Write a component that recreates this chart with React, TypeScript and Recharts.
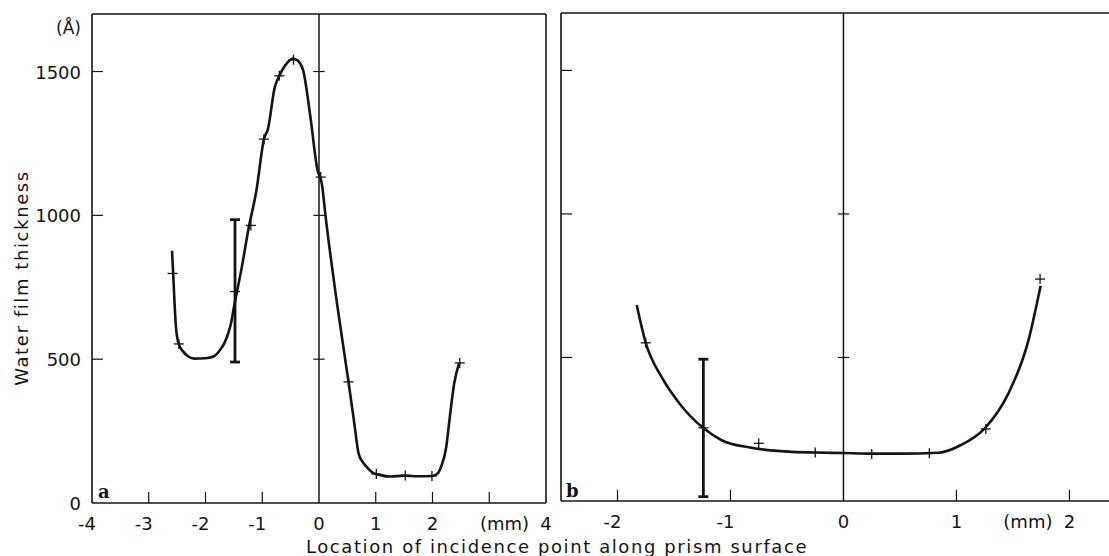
import React from 'react';
import {
  ComposedChart, Line, Scatter, ErrorBar, XAxis, YAxis, ReferenceLine,
} from 'recharts';

/* ── Panel a: measured points, fitted curve, error bar ── */
const pointsA = [
  { x: -2.58, y: 798 }, { x: -2.47, y: 553 }, { x: -1.2, y: 965 },
  { x: -0.97, y: 1265 }, { x: -0.7, y: 1485 }, { x: -0.45, y: 1541 },
  { x: 0.03, y: 1133 }, { x: 0.52, y: 421 }, { x: 1.01, y: 101 },
  { x: 1.52, y: 96 }, { x: 1.99, y: 94 }, { x: 2.48, y: 487 },
];
const errPointA = [{ x: -1.48, y: 735, err: [245, 250] }];
const curveA = [
  { x: -2.59, y: 877 }, { x: -2.57, y: 800 }, { x: -2.55, y: 714 }, { x: -2.52, y: 610 },
  { x: -2.47, y: 552 }, { x: -2.4, y: 528 }, { x: -2.32, y: 512 }, { x: -2.2, y: 502 },
  { x: -2.0, y: 503 }, { x: -1.85, y: 510 }, { x: -1.75, y: 530 }, { x: -1.67, y: 555 },
  { x: -1.6, y: 590 }, { x: -1.55, y: 625 }, { x: -1.5, y: 680 }, { x: -1.45, y: 730 },
  { x: -1.36, y: 820 }, { x: -1.25, y: 945 }, { x: -1.1, y: 1090 }, { x: -0.97, y: 1265 },
  { x: -0.9, y: 1300 }, { x: -0.78, y: 1445 }, { x: -0.7, y: 1485 }, { x: -0.6, y: 1520 },
  { x: -0.46, y: 1545 }, { x: -0.37, y: 1537 }, { x: -0.28, y: 1505 }, { x: -0.15, y: 1340 },
  { x: -0.03, y: 1160 }, { x: 0.05, y: 1110 }, { x: 0.12, y: 990 }, { x: 0.32, y: 690 },
  { x: 0.52, y: 421 }, { x: 0.62, y: 280 }, { x: 0.7, y: 170 }, { x: 0.78, y: 140 },
  { x: 0.85, y: 123 }, { x: 0.95, y: 105 }, { x: 1.1, y: 96 }, { x: 1.25, y: 92 },
  { x: 1.5, y: 95 }, { x: 1.75, y: 93 }, { x: 2.0, y: 94 }, { x: 2.1, y: 105 },
  { x: 2.15, y: 125 }, { x: 2.24, y: 192 }, { x: 2.3, y: 290 }, { x: 2.38, y: 413 },
  { x: 2.47, y: 487 },
];

/* ── Panel b ── */
const pointsB = [
  { x: -1.75, y: 551 }, { x: -0.75, y: 201 }, { x: -0.25, y: 169 }, { x: 0.25, y: 164 },
  { x: 0.76, y: 166 }, { x: 1.26, y: 251 }, { x: 1.74, y: 773 },
];
const errPointB = [{ x: -1.24, y: 255, err: [240, 239] }];
const curveB = [
  { x: -1.83, y: 683 }, { x: -1.75, y: 551 }, { x: -1.61, y: 432 }, { x: -1.45, y: 339 },
  { x: -1.24, y: 254 }, { x: -1.07, y: 210 }, { x: -0.84, y: 187 }, { x: -0.49, y: 172 },
  { x: -0.25, y: 169 }, { x: 0, y: 167 }, { x: 0.25, y: 165 }, { x: 0.5, y: 165 },
  { x: 0.84, y: 168 }, { x: 1.04, y: 195 }, { x: 1.25, y: 253 }, { x: 1.46, y: 375 },
  { x: 1.63, y: 549 }, { x: 1.745, y: 750 },
];

/* ── Axes ── */
const xTicksA = [-4, -3, -2, -1, 0, 1, 2, 3, 4];
const xTicksB = [-2, -1, 0, 1, 2];
const yTicks = [0, 500, 1000, 1500];
const midTicksA = [500, 1000, 1500];
const midTicksB = [500, 1000];
const Y_MAX = 1700;

const INK = '#141414';
const FONT = '"DejaVu Sans", sans-serif';

const Cross = (props: any) => {
  const { cx, cy } = props;
  return (
    <g stroke={INK} strokeWidth={1.3}>
      <line x1={cx - 5} x2={cx + 5} y1={cy} y2={cy} />
      <line x1={cx} x2={cx} y1={cy - 5} y2={cy + 5} />
    </g>
  );
};

function makeXTick(lastVal: number, noLabel: number[], noLine: number[]) {
  return (props: any) => {
    const { x, y, payload } = props;
    const v = payload.value;
    return (
      <g>
        {!noLine.includes(v) && (
          <line x1={x} x2={x} y1={y} y2={y - 11} stroke={INK} strokeWidth={1.2} />
        )}
        {!noLabel.includes(v) && (
          <text x={x} y={y + 27} dx={v < 0 ? -5 : 0} textAnchor="middle"
            fontFamily={FONT} fontSize={18} fill={INK}>{String(v)}</text>
        )}
        {v === lastVal && (
          <text x={x - 17} y={y + 27} textAnchor="end" fontFamily={FONT}
            fontSize={18} fill={INK}>(mm)</text>
        )}
      </g>
    );
  };
}

const YTickA = (props: any) => {
  const { x, y, payload } = props;
  return (
    <g>
      {payload.value !== 0 && (
        <line x1={x + 11} x2={x + 22} y1={y} y2={y} stroke={INK} strokeWidth={1.2} />
      )}
      <text x={x} y={y + 7} textAnchor="end" fontFamily={FONT} fontSize={18} fill={INK}>
        {payload.value}
      </text>
    </g>
  );
};

const YTickB = (props: any) => {
  const { x, y, payload } = props;
  if (payload.value === 0) return <g />;
  return <line x1={x} x2={x + 11} y1={y} y2={y} stroke={INK} strokeWidth={1.2} />;
};

const axisLine = { stroke: INK, strokeWidth: 1.6 };

export default function App() {
  return (
    <div style={{ position: 'absolute', left: 0, top: 0, width: 1109, height: 556, background: '#fff' }}>
      {/* panel a */}
      <div style={{ position: 'absolute', left: 0, top: 0 }}>
        <ComposedChart width={560} height={556} margin={{ top: 14, right: 14, bottom: 23, left: 32 }}>
          <XAxis type="number" dataKey="x" domain={[-4, 4]} ticks={xTicksA} interval={0}
            height={30} tickSize={0} tickMargin={0} axisLine={axisLine} tickLine={false}
            tick={makeXTick(4, [3], [-4, 0, 4])} allowDataOverflow />
          <YAxis type="number" dataKey="y" domain={[0, Y_MAX]} ticks={yTicks} interval={0}
            width={60} tickSize={0} tickMargin={11} axisLine={axisLine} tickLine={false}
            tick={YTickA} allowDataOverflow />
          <ReferenceLine y={Y_MAX} stroke={INK} strokeWidth={1.6} />
          <ReferenceLine x={4} stroke={INK} strokeWidth={1.6} />
          <ReferenceLine x={0} stroke={INK} strokeWidth={1.5} />
          {midTicksA.map((v) => (
            <ReferenceLine key={v} segment={[{ x: -0.1, y: v }, { x: 0.1, y: v }]} stroke={INK} strokeWidth={1.2} />
          ))}
          <Line data={curveA} dataKey="y" type="monotone" stroke={INK} strokeWidth={2.6}
            dot={false} activeDot={false} isAnimationActive={false} />
          <Scatter data={pointsA} dataKey="y" shape={Cross} isAnimationActive={false} />
          <Scatter data={errPointA} dataKey="y" shape={Cross} isAnimationActive={false}>
            <ErrorBar dataKey="err" direction="y" width={5} stroke={INK} strokeWidth={2.8} />
          </Scatter>
        </ComposedChart>
      </div>

      {/* panel b */}
      <div style={{ position: 'absolute', left: 501, top: 0 }}>
        <ComposedChart width={608} height={556} margin={{ top: 13, right: 0, bottom: 25, left: 0 }}>
          <XAxis type="number" dataKey="x" domain={[-2.5, 2.35]} ticks={xTicksB} interval={0}
            height={30} tickSize={0} tickMargin={0} axisLine={axisLine} tickLine={false}
            tick={makeXTick(2, [], [0])} allowDataOverflow />
          <YAxis type="number" dataKey="y" domain={[0, Y_MAX]} ticks={yTicks} interval={0}
            width={60} tickSize={0} tickMargin={0} axisLine={axisLine} tickLine={false}
            tick={YTickB} allowDataOverflow />
          <ReferenceLine y={Y_MAX} stroke={INK} strokeWidth={1.6} />
          <ReferenceLine x={0} stroke={INK} strokeWidth={1.5} />
          {midTicksB.map((v) => (
            <ReferenceLine key={v} segment={[{ x: -0.05, y: v }, { x: 0.05, y: v }]} stroke={INK} strokeWidth={1.2} />
          ))}
          <Line data={curveB} dataKey="y" type="monotone" stroke={INK} strokeWidth={2.6}
            dot={false} activeDot={false} isAnimationActive={false} />
          <Scatter data={pointsB} dataKey="y" shape={Cross} isAnimationActive={false} />
          <Scatter data={errPointB} dataKey="y" shape={Cross} isAnimationActive={false}>
            <ErrorBar dataKey="err" direction="y" width={5} stroke={INK} strokeWidth={2.8} />
          </Scatter>
        </ComposedChart>
      </div>

      {/* free text */}
      <svg width={1109} height={556} style={{ position: 'absolute', left: 0, top: 0, pointerEvents: 'none' }}>
        <text x={81} y={34} textAnchor="end" fontFamily={FONT} fontSize={17} fill={INK}>(Å)</text>
        <text x={98} y={498} fontFamily='"DejaVu Serif", serif' fontWeight="bold" fontSize={18} fill={INK}>a</text>
        <text x={566} y={497} fontFamily='"DejaVu Serif", serif' fontWeight="bold" fontSize={18} fill={INK}>b</text>
        <text x={557} y={553} textAnchor="middle" fontFamily={FONT} fontSize={18}
          letterSpacing={1.6} fill={INK}>Location of incidence point along prism surface</text>
        <text x={28} y={278} textAnchor="middle" transform="rotate(-90 28 278)" fontFamily={FONT}
          fontSize={18} letterSpacing={1.6} fill={INK}>Water film thickness</text>
      </svg>
    </div>
  );
}
